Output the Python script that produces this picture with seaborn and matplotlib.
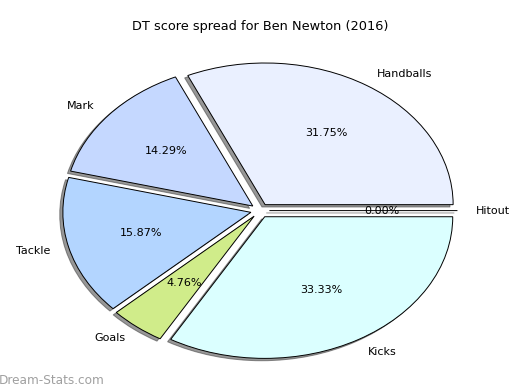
import matplotlib
matplotlib.use("Agg")
import matplotlib.pyplot as plt
import seaborn as sns

# DT score breakdown (counts) for Ben Newton, 2016
categories = ["Handballs", "Mark", "Tackle", "Goals", "Kicks", "Hitout"]
counts = [20, 9, 10, 3, 21, 0]
slice_colors = ["#eaf0ff", "#c5d8ff", "#b3d5ff", "#d0ec8a", "#dbffff", "#e0e0ff"]

sns.set_style("white")
plt.rcParams["font.family"] = ["DejaVu Sans"]

fig = plt.figure(figsize=(5.2, 3.9), dpi=100)
ax = fig.add_axes([0.048, 0.006, 0.904, 0.908])

palette = sns.color_palette(slice_colors)
wedges, texts, autotexts = ax.pie(
    counts,
    labels=categories,
    colors=palette,
    explode=[0.05] * len(counts),
    autopct="%1.2f%%",
    shadow={"ox": -0.012, "oy": -0.012, "facecolor": "#303030",
            "edgecolor": "#303030", "alpha": 0.5},
    wedgeprops={"edgecolor": "black", "linewidth": 0.7},
    textprops={"fontsize": 8, "color": "black"},
)
ax.set_aspect("auto")

fig.text(0.5, 0.933, "DT score spread for Ben Newton (2016)",
         ha="center", va="center", fontsize=9.3, color="black")
fig.text(-0.002, 0.025, "Dream-Stats.com", ha="left", va="center",
         fontsize=8.7, color="#a0a0a0")

fig.savefig("out.png", dpi=100)
